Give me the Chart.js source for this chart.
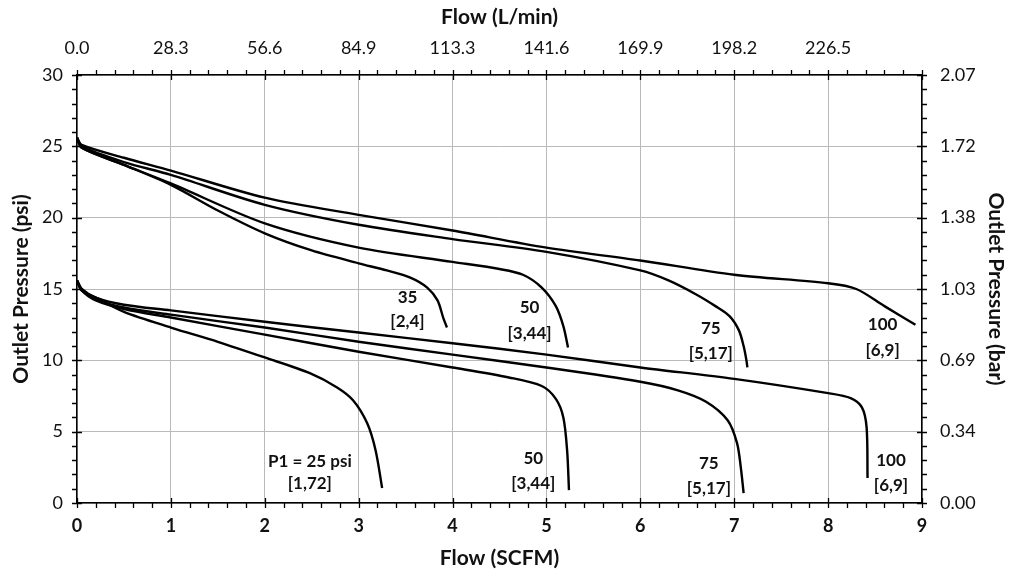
<!DOCTYPE html>
<html>
<head>
<meta charset="utf-8">
<script src="https://cdn.jsdelivr.net/npm/chart.js@4.4.1/dist/chart.umd.min.js"></script>
<style>
    html, body { margin: 0; padding: 0; background: #fff; }
    #wrap { width: 1010px; height: 576px; }
</style>
</head>
<body>
<div id="wrap"><canvas id="flowChart" width="1010" height="576"></canvas></div>
<script>
// Outlet pressure vs flow, two inlet groups (upper ~25 psi set, lower ~15 psi set)

// upper group
const flowUp35 = [0, 0.05, 0.5, 1, 1.5, 2, 2.5, 3, 3.3, 3.55, 3.73, 3.84, 3.9, 3.94];
const psiUp35 = [25.6, 24.9, 23.7, 22.3, 20.5, 18.9, 17.7, 16.8, 16.3, 15.8, 15.1, 14.2, 13.0, 12.3];
const flowUp50 = [0, 0.05, 0.5, 1, 2, 3, 4, 4.5, 4.75, 4.95, 5.1, 5.18, 5.23];
const psiUp50 = [25.6, 24.9, 23.7, 22.4, 19.6, 17.9, 16.9, 16.4, 16.0, 15.1, 13.8, 12.4, 10.9];
const flowUp75 = [0, 0.05, 0.5, 1, 2, 3, 4, 5, 6, 6.3, 6.6, 6.8, 6.95, 7.05, 7.1, 7.13, 7.14];
const psiUp75 = [25.6, 25.0, 23.9, 23.0, 20.9, 19.5, 18.5, 17.6, 16.3, 15.6, 14.6, 13.8, 13.1, 12.1, 11.0, 10.0, 9.5];
const flowUp100 = [0, 0.05, 0.5, 1, 2, 3, 4, 5, 6, 7, 8, 8.3, 8.6, 8.93];
const psiUp100 = [25.6, 25.1, 24.2, 23.3, 21.4, 20.2, 19.1, 17.9, 17.0, 16.0, 15.4, 15.0, 13.8, 12.5];

// lower group
const flowLo25 = [0, 0.05, 0.2, 0.5, 1, 1.5, 2, 2.48, 2.77, 2.94, 3.09, 3.18, 3.25];
const psiLo25 = [15.6, 14.9, 14.4, 13.4, 12.3, 11.3, 10.2, 9.1, 8.1, 7.2, 5.6, 3.7, 1.05];
const flowLo50 = [0, 0.05, 0.2, 0.5, 1, 2, 3, 4, 4.6, 4.95, 5.1, 5.18, 5.22, 5.24];
const psiLo50 = [15.6, 14.9, 14.2, 13.6, 13.0, 11.8, 10.6, 9.5, 8.8, 8.2, 7.3, 6.0, 3.7, 0.9];
const flowLo75 = [0, 0.05, 0.2, 0.5, 1, 2, 3, 4, 5, 6, 6.4, 6.7, 6.93, 7.03, 7.07, 7.1];
const psiLo75 = [15.6, 15.0, 14.3, 13.7, 13.2, 12.3, 11.3, 10.4, 9.5, 8.5, 7.9, 7.1, 5.8, 4.2, 2.5, 0.7];
const flowLo100 = [0, 0.05, 0.2, 0.5, 1, 2, 3, 4, 5, 6, 7, 8, 8.24, 8.36, 8.41, 8.42];
const psiLo100 = [15.6, 15.0, 14.4, 13.9, 13.5, 12.7, 11.95, 11.2, 10.4, 9.5, 8.7, 7.7, 7.35, 6.7, 5.3, 1.75];

// secondary axis labels
const litreTickLabels = ['0.0', '28.3', '56.6', '84.9', '113.3', '141.6', '169.9', '198.2', '226.5', ''];
const barTickLabels = ['0.00', '0.34', '0.69', '1.03', '1.38', '1.72', '2.07'];

// curve captions
const captionText = [
    ['35', '[2,4]'], ['50', '[3,44]'], ['75', '[5,17]'], ['100', '[6,9]'],
    ['P1 = 25 psi', '[1,72]'], ['50', '[3,44]'], ['75', '[5,17]'], ['100', '[6,9]']
];
const captionFlow = [3.52, 4.82, 6.75, 8.58, 2.48, 4.86, 6.73, 8.67];
const captionPsi = [[14.4, 12.7], [13.7, 11.9], [12.2, 10.45], [12.5, 10.7],
                    [2.9, 1.35], [3.1, 1.4], [2.8, 1.05], [3.0, 1.26]];

const FONT = 'Lato, "Open Sans", "Liberation Sans", sans-serif';
const INK = '#111';

function toPoints(xs, ys) {
    return xs.map((x, i) => ({ x: x, y: ys[i] }));
}

function curve(xs, ys) {
    return {
        data: toPoints(xs, ys),
        borderColor: '#000',
        borderWidth: 2.4,
        pointRadius: 0,
        showLine: true,
        fill: false,
        tension: 0.3
    };
}

// small tick marks: majors cross the axis, minors sit outside
const tickMarks = {
    id: 'tickMarks',
    afterDraw(chart) {
        const { ctx, chartArea: a, scales } = chart;
        ctx.save();
        ctx.strokeStyle = '#000';
        ctx.lineWidth = 1.3;
        ctx.beginPath();
        for (let i = 0; i <= 45; i++) {
            const px = Math.round(scales.x.getPixelForValue(i * 0.2)) + 0.5;
            const major = i % 5 === 0;
            ctx.moveTo(px, a.bottom - (major ? 5 : 0));
            ctx.lineTo(px, a.bottom + 5);
            ctx.moveTo(px, a.top + (major ? 5 : 0));
            ctx.lineTo(px, a.top - 5);
        }
        for (let v = 0; v <= 30; v++) {
            const py = Math.round(scales.y.getPixelForValue(v)) + 0.5;
            const major = v % 5 === 0;
            ctx.moveTo(a.left + (major ? 5 : 0), py);
            ctx.lineTo(a.left - 5, py);
            ctx.moveTo(a.right - (major ? 5 : 0), py);
            ctx.lineTo(a.right + 5, py);
        }
        ctx.stroke();
        ctx.restore();
    }
};

// captions next to each curve end
const captions = {
    id: 'captions',
    afterDatasetsDraw(chart) {
        const { ctx, scales } = chart;
        ctx.save();
        ctx.fillStyle = INK;
        ctx.font = 'bold 17px ' + FONT;
        ctx.textAlign = 'center';
        ctx.textBaseline = 'middle';
        captionText.forEach((lines, i) => {
            const px = scales.x.getPixelForValue(captionFlow[i]);
            lines.forEach((t, j) => {
                ctx.fillText(t, px, scales.y.getPixelForValue(captionPsi[i][j]));
            });
        });
        ctx.restore();
    }
};

const whiteBg = {
    id: 'whiteBg',
    beforeDraw(chart) {
        const { ctx, width, height } = chart;
        ctx.save();
        ctx.fillStyle = '#fff';
        ctx.fillRect(0, 0, width, height);
        ctx.restore();
    }
};

const gridColor = '#b9b9b9';
const axisBorder = { display: true, color: '#000', width: 1.5 };
const titleFont = { family: FONT, size: 21, weight: 'bold' };
const tickFont = { family: FONT, size: 18 };

new Chart(document.getElementById('flowChart'), {
    type: 'scatter',
    data: {
        datasets: [
            curve(flowUp35, psiUp35), curve(flowUp50, psiUp50),
            curve(flowUp75, psiUp75), curve(flowUp100, psiUp100),
            curve(flowLo25, psiLo25), curve(flowLo50, psiLo50),
            curve(flowLo75, psiLo75), curve(flowLo100, psiLo100)
        ]
    },
    options: {
        responsive: false,
        animation: false,
        events: [],
        layout: { padding: 0 },
        plugins: { legend: { display: false }, tooltip: { enabled: false } },
        scales: {
            x: {
                type: 'linear', position: 'bottom', min: 0, max: 9,
                afterFit: s => { s.height = 73; },
                ticks: { stepSize: 1, padding: 12, color: INK, font: { family: FONT, size: 18, weight: 'bold' } },
                grid: { color: gridColor, lineWidth: 1, drawTicks: false },
                border: axisBorder,
                title: { display: true, text: 'Flow (SCFM)', color: INK, padding: { top: 0, bottom: 5 }, font: titleFont }
            },
            x2: {
                type: 'linear', position: 'top', min: 0, max: 9,
                afterFit: s => { s.height = 75; },
                ticks: { stepSize: 1, padding: 16, color: INK, font: tickFont,
                         callback: v => litreTickLabels[v] },
                grid: { drawOnChartArea: false, drawTicks: false },
                border: axisBorder,
                title: { display: true, text: 'Flow (L/min)', color: INK, padding: { top: 5, bottom: 0 }, font: titleFont }
            },
            y: {
                type: 'linear', position: 'left', min: 0, max: 30,
                afterFit: s => { s.width = 77; },
                ticks: { stepSize: 5, padding: 14, color: INK, font: tickFont },
                grid: { color: gridColor, lineWidth: 1, drawTicks: false },
                border: axisBorder,
                title: { display: true, text: 'Outlet Pressure (psi)', color: INK, padding: { top: 9, bottom: 0 }, font: titleFont }
            },
            y2: {
                type: 'linear', position: 'right', min: 0, max: 30,
                afterFit: s => { s.width = 88; },
                ticks: { stepSize: 5, padding: 18, color: INK, font: tickFont,
                         callback: v => barTickLabels[v / 5] },
                grid: { drawOnChartArea: false, drawTicks: false },
                border: axisBorder,
                title: { display: true, text: 'Outlet Pressure (bar)', color: INK, padding: { top: 2, bottom: 0 }, font: titleFont }
            }
        }
    },
    plugins: [whiteBg, tickMarks, captions]
});
</script>
</body>
</html>
